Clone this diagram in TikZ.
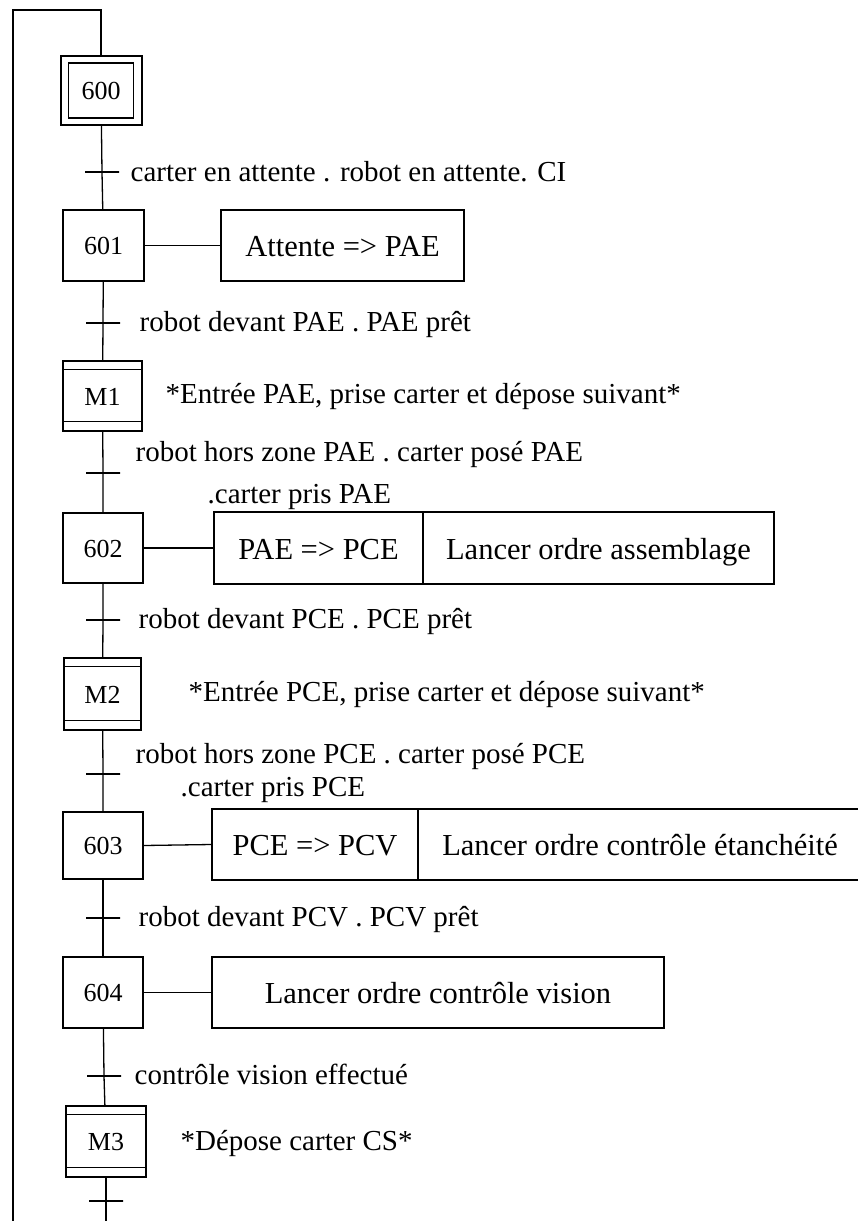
\documentclass[tikz,border=0pt]{standalone}
\usepackage{fontspec}
\setmainfont{Liberation Serif}
\begin{document}
\begin{tikzpicture}[x=1pt,y=-1pt,line width=1.3pt,
  stepbox/.style={draw,rectangle,inner sep=0pt,text height=18pt,text depth=0pt,font=\fontsize{26}{30}\selectfont},
  actbox/.style={draw,rectangle,inner sep=0pt,minimum height=71pt,text height=24pt,text depth=2pt,font=\fontsize{30.5}{36}\selectfont},
  trans/.style={draw,rectangle,minimum width=34pt,minimum height=0pt,inner sep=0pt,outer sep=0pt},
  lbl/.style={anchor=base west,inner sep=0pt,font=\fontsize{29}{34}\selectfont}]
\useasboundingbox (0,0) rectangle (858,1221);
\clip (0,0) rectangle (858,1221);

% initial step
\node[stepbox,line width=2pt,minimum width=81pt,minimum height=69pt] (s600) at (101,90.5) {};
\node[stepbox,minimum width=65pt,minimum height=55pt] (s600i) at (101,90.5) {600};

% steps
\node[stepbox,minimum width=81pt,minimum height=71pt] (s601) at (103.5,245.5) {601};
\node[stepbox,minimum width=79pt,minimum height=70pt] (m1) at (102.5,396) {M1};
\node[stepbox,minimum width=80pt,minimum height=70pt] (s602) at (103,548) {602};
\node[stepbox,minimum width=77pt,minimum height=72pt] (m2) at (102.5,694) {M2};
\node[stepbox,minimum width=80pt,minimum height=67pt] (s603) at (103,845.5) {603};
\node[stepbox,minimum width=80pt,minimum height=71pt] (s604) at (103,992.5) {604};
\node[stepbox,minimum width=80pt,minimum height=71pt] (m3) at (106,1141.5) {M3};

% macro-step bands
\foreach \m in {m1,m2,m3}{
  \draw ([yshift=-9pt]\m.north west) -- ([yshift=-9pt]\m.north east);
  \draw ([yshift=10pt]\m.south west) -- ([yshift=10pt]\m.south east);
}

% transitions
\node[trans] (t0) at (102,172) {};
\node[trans] (t1) at (103,323) {};
\node[trans] (t2) at (103,473) {};
\node[trans] (t3) at (103,620) {};
\node[trans] (t4) at (103,774) {};
\node[trans] (t5) at (103,918) {};
\node[trans] (t6) at (104,1076) {};
\node[trans] (tend) at (106,1201) {};

% actions
\node[actbox,minimum width=243pt] (a601) at (342.5,245.5) {Attente => PAE};
\node[actbox,minimum width=209pt,minimum height=72pt] (a602a) at (318.5,548) {PAE => PCE};
\node[actbox,minimum width=351pt,minimum height=72pt] (a602b) at (598.5,548) {Lancer ordre assemblage};
\node[actbox,minimum width=206pt] (a603a) at (315,844.5) {PCE => PCV};
\node[actbox,minimum width=444pt] (a603b) at (640,844.5) {Lancer ordre contrôle étanchéité};
\node[actbox,minimum width=452pt] (a604) at (438,992.5) {Lancer ordre contrôle vision};

% links step -> action
\draw (s601.east) -- (a601.west);
\draw (s602.east) -- (a602a.west);
\draw (s603.east) -- (a603a.west);
\draw (s604.east) -- (a604.west);

% transition labels and macro-step texts
\node[lbl] (l0) at (130,181) {carter en attente . robot en attente. CI};
\node[lbl] (l1) at (139,331) {robot devant PAE . PAE prêt};
\node[lbl] (am1) at (165,403) {*Entrée PAE, prise carter et dépose suivant*};
\node[lbl] (l2a) at (135,461) {robot hors zone PAE . carter posé PAE};
\node[lbl] (l2b) at (207,503) {.carter pris PAE};
\node[lbl] (l3) at (138,628) {robot devant PCE . PCE prêt};
\node[lbl] (am2) at (188,701) {*Entrée PCE, prise carter et dépose suivant*};
\node[lbl] (l4a) at (135,763) {robot hors zone PCE . carter posé PCE};
\node[lbl] (l4b) at (180,796) {.carter pris PCE};
\node[lbl] (l5) at (138,926) {robot devant PCV . PCV prêt};
\node[lbl] (l6) at (134,1084) {contrôle vision effectué};
\node[lbl] (am3) at (180,1150) {*Dépose carter CS*};

% main flow
\draw (s600) -- (t0) -- (s601);
\draw (s601) -- (t1) -- (m1);
\draw (m1) -- (t2) -- (s602);
\draw (s602) -- (t3) -- (m2);
\draw (m2) -- (t4) -- (s603);
\draw (s603) -- (t5) -- (s604);
\draw (s604) -- (t6) -- (m3);
\coordinate (bot) at (106,1221);
\draw (m3) -- (tend) -- (bot);

% loop back
\coordinate (lb) at (13,1221);
\coordinate (lt) at (13,10);
\draw (lb) -- (lt) -| (s600.north);
\end{tikzpicture}
\end{document}
